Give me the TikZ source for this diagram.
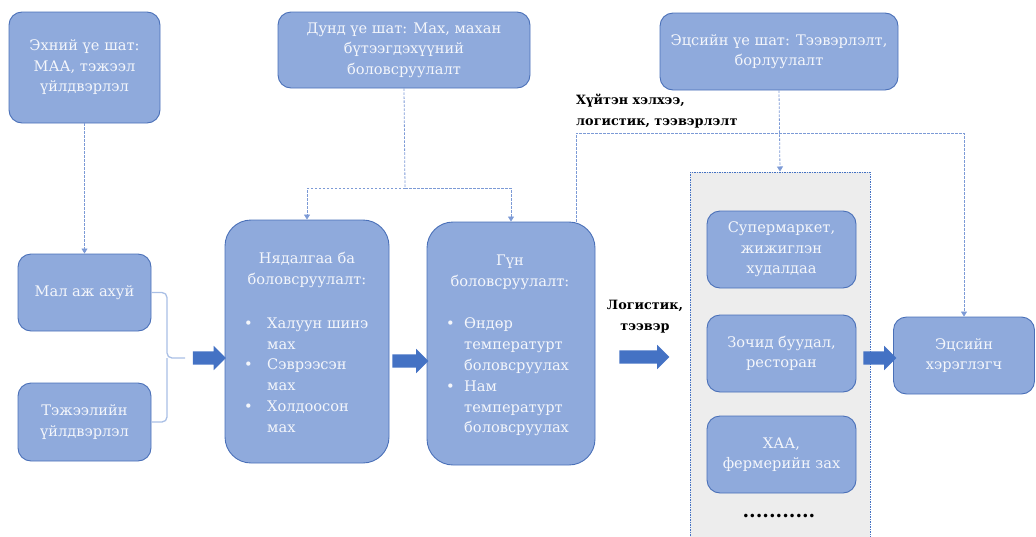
\documentclass[tikz,border=0pt]{standalone}
\usepackage{fontspec}
\setmainfont{DejaVu Serif}
\usetikzlibrary{shapes.arrows,arrows.meta}
\definecolor{boxfill}{HTML}{8FAADC}
\definecolor{boxline}{HTML}{4A70B8}
\definecolor{arrblue}{HTML}{4472C4}
\definecolor{dashblue}{HTML}{7C9AD6}
\definecolor{txtwhite}{HTML}{F4F6FB}
\definecolor{contfill}{HTML}{EDEDED}
\definecolor{bracecol}{HTML}{A9BFE5}
\tikzset{
  box/.style={draw=boxline, line width=0.9pt, fill=boxfill, rounded corners=13pt, inner sep=0pt,
    text=txtwhite, align=center, font=\fontsize{14.6}{20.5}\selectfont},
  bigbox/.style={box, rounded corners=26pt},
  boxtext/.style={text=txtwhite, inner sep=0pt, font=\fontsize{14.6}{20.8}\selectfont},
  dl/.style={draw=dashblue, line width=0.8pt, dash pattern=on 2.5pt off 1.5pt},
  dla/.style={dl, -{Triangle[width=6pt,length=5pt]}},
  blockarrow/.style={single arrow, fill=arrblue, draw=none, inner sep=6.5pt, single arrow head extend=5.5pt,
    minimum width=24pt},
  lbl/.style={inner sep=0pt, font=\bfseries\fontsize{12.8}{21}\selectfont, text=black},
}
\begin{document}
\begin{tikzpicture}[x=1pt,y=-1pt]
\path[use as bounding box] (0,0) rectangle (1036,536);
\clip (0,0) rectangle (1036,536);
% container
\node[fill=contfill, draw=arrblue, line width=1pt, dash pattern=on 1.5pt off 1pt, inner sep=0pt,
  minimum width=180pt, minimum height=373pt] (cont) at (780,358.5) {};
% top stage boxes
\node[box, minimum width=151pt, minimum height=111pt] (e1) at (84.5,67.5) {Эхний үе шат:\\МАА, тэжээл\\үйлдвэрлэл};
\node[box, minimum width=252pt, minimum height=76pt] (d) at (404,50) {Дунд үе шат: Мах, махан\\бүтээгдэхүүний\\боловсруулалт};
\node[box, minimum width=238pt, minimum height=77pt] (es) at (779,51.5) {Эцсийн үе шат: Тээвэрлэлт,\\борлуулалт};
% left boxes
\node[box, minimum width=133pt, minimum height=77pt] (m1) at (84.5,292.5) {Мал аж ахуй};
\node[box, minimum width=133pt, minimum height=78pt] (m2) at (84.5,422) {Тэжээлийн\\үйлдвэрлэл};
% processing boxes
\node[bigbox, minimum width=164pt, minimum height=243pt] (n) at (307,341.5) {};
\node[boxtext, align=center] (nt) at (307,270) {Нядалгаа ба\\боловсруулалт:};
\node[boxtext, align=left, anchor=west] (nl) at (244,375) {\makebox[23pt][l]{•}Халуун шинэ\\\hspace*{23pt}мах\\\makebox[23pt][l]{•}Сэврээсэн\\\hspace*{23pt}мах\\\makebox[23pt][l]{•}Холдоосон\\\hspace*{23pt}мах};
\node[bigbox, minimum width=168pt, minimum height=243pt] (g) at (511,343.5) {};
\node[boxtext, align=center] (gt) at (510,272.5) {Гүн\\боловсруулалт:};
\node[boxtext, align=left, anchor=west] (gl) at (446,377) {\makebox[18pt][l]{•}Өндөр\\\hspace*{18pt}температурт\\\hspace*{18pt}боловсруулах\\\makebox[18pt][l]{•}Нам\\\hspace*{18pt}температурт\\\hspace*{18pt}боловсруулах};
% retail boxes
\node[box, minimum width=149pt, minimum height=77pt] (s1) at (781.5,249.5) {Супермаркет,\\жижиглэн\\худалдаа};
\node[box, minimum width=149pt, minimum height=77pt] (s2) at (781.5,353.5) {Зочид буудал,\\ресторан};
\node[box, minimum width=149pt, minimum height=77pt] (s3) at (781.5,454.5) {ХАА,\\фермерийн зах};
\node[inner sep=0pt, font=\bfseries\fontsize{19}{20}\selectfont] (dots) at (779,516) {...........};
\node[box, minimum width=141pt, minimum height=77pt] (ec) at (964,355.5) {Эцсийн\\хэрэглэгч};
% labels
\node[lbl, align=left, anchor=west] (cold) at (576,111) {Хүйтэн хэлхээ,\\логистик, тээвэрлэлт};
\node[lbl, align=center] (logl) at (645,317) {Логистик,\\тээвэр};
% brace
\coordinate (brtip) at (185,358);
\draw[bracecol, line width=1.3pt, rounded corners=5pt] (m1.east) -| (167,358) -- (brtip);
\draw[bracecol, line width=1.3pt, rounded corners=5pt] (m2.east) -| (167,358);
% block arrows
\node[blockarrow, minimum height=33pt] (a1) at (206,358) {};
\node[blockarrow, minimum height=36pt] (a2) at (407,361) {};
\node[blockarrow, minimum height=50pt] (a3) at (641,357) {};
\node[blockarrow, minimum height=33pt] (a4) at (876.5,358) {};
% dashed connectors
\draw[dla] (e1.south) -- (m1.north);
\coordinate (j) at (405,188);
\draw[dl] (d.south) -- (j);
\draw[dla] (j) -| (n.north);
\draw[dla] (j) -| (g.north);
\coordinate (k) at (576,133);
\draw[dla] (g.north -| k) -- (k) -| (ec.north);
\draw[dla] (es.south) -- (cont.north);
\end{tikzpicture}
\end{document}
